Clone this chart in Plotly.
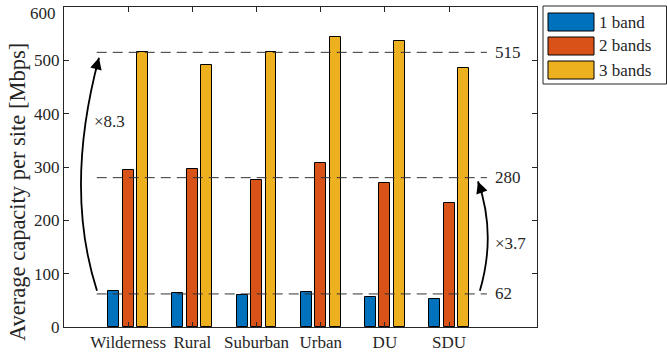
import plotly.graph_objects as go

# Average capacity per site for each deployment scenario
categories = ["Wilderness", "Rural", "Suburban", "Urban", "DU", "SDU"]
band1 = [67, 64, 60, 66, 57, 52]
band2 = [295, 297, 275, 307, 270, 232]
band3 = [516, 492, 515, 543, 536, 486]
series_names = ["1 band", "2 bands", "3 bands"]
series_colors = ["#0072BD", "#D95319", "#EDB120"]

# Mean levels across scenarios and the gain annotations
mean_levels = [62, 280, 515]
gain_labels = ["\u00d78.3", "\u00d73.7"]

y_ticks = [0, 100, 200, 300, 400, 500, 600]
y_title = "Average capacity per site [Mbps]"

FONT = "Liberation Serif, Times New Roman, serif"
TXT = "#262626"
FS = 17
W, H = 667, 354
ML, MR, MT, MB = 64, 130, 7, 27

pos = list(range(1, len(categories) + 1))
bar_w = 0.17
step = 0.225

fig = go.Figure()
for k, (name, vals, col) in enumerate(zip(series_names, [band1, band2, band3], series_colors)):
    fig.add_trace(go.Bar(
        x=pos, y=vals, name=name,
        width=bar_w, offset=(k - 1) * step - bar_w / 2,
        marker=dict(color=col, line=dict(color="#000000", width=1)),
        showlegend=False,
    ))

# Dashed mean lines with value labels
for lv in mean_levels:
    fig.add_shape(type="line", xref="x", yref="y", x0=0.51, x1=6.59, y0=lv, y1=lv,
                  line=dict(color="#333333", width=1, dash="10px,6px"), layer="above")
    fig.add_annotation(x=6.69, y=lv, xref="x", yref="y", text=str(lv), showarrow=False,
                       xanchor="left", yanchor="middle", font=dict(family=FONT, size=FS, color=TXT))

# Curved arrows from the 1-band mean up to the higher means
lo, mid, hi = mean_levels
fig.add_shape(type="path", xref="x", yref="y",
              path=f"M 0.514 68 Q 0.0 260 0.545 {hi - 10}",
              line=dict(color="#000000", width=1.8))
fig.add_annotation(x=0.545, y=hi - 10, xref="x", yref="y", text="", showarrow=True,
                   ax=-3.6, ay=13.5, arrowhead=2, arrowsize=1.3, arrowwidth=1.8,
                   arrowcolor="#000000", standoff=0)
fig.add_shape(type="path", xref="x", yref="y",
              path=f"M 6.48 68 Q 6.74 175 6.45 {mid - 7}",
              line=dict(color="#000000", width=1.8))
fig.add_annotation(x=6.45, y=mid - 7, xref="x", yref="y", text="", showarrow=True,
                   ax=4.7, ay=13.2, arrowhead=2, arrowsize=1.3, arrowwidth=1.8,
                   arrowcolor="#000000", standoff=0)
fig.add_annotation(x=0.71, y=385, xref="x", yref="y", text=gain_labels[0], showarrow=False,
                   xanchor="center", yanchor="middle", font=dict(family=FONT, size=FS, color=TXT))
fig.add_annotation(x=6.69, y=156, xref="x", yref="y", text=gain_labels[1], showarrow=False,
                   xanchor="left", yanchor="middle", font=dict(family=FONT, size=FS, color=TXT))

# Helpers for placing items in paper coordinates
pw = W - ML - MR
ph = H - MT - MB
def px_x(px):
    return (px - ML) / pw
def px_y(py):
    return (H - MB - py) / ph

# Top y tick label, nudged down so it stays inside the page
fig.add_annotation(x=px_x(58), y=px_y(13), xref="paper", yref="paper", text=str(y_ticks[-1]),
                   showarrow=False, xanchor="right", yanchor="middle",
                   font=dict(family=FONT, size=FS, color=TXT))

# Vertical axis title
fig.add_annotation(x=px_x(17), y=px_y(192), xref="paper", yref="paper", text=y_title,
                   textangle=-90, showarrow=False, xanchor="center", yanchor="middle",
                   font=dict(family=FONT, size=22.5, color=TXT))

# Legend box
fig.add_shape(type="rect", xref="paper", yref="paper",
              x0=px_x(543), x1=px_x(666.5), y0=px_y(84), y1=px_y(6),
              line=dict(color="#262626", width=1), fillcolor="white")
for i, (name, col) in enumerate(zip(series_names, series_colors)):
    top = 13 + 24 * i
    fig.add_shape(type="rect", xref="paper", yref="paper",
                  x0=px_x(548), x1=px_x(594), y0=px_y(top + 18), y1=px_y(top),
                  line=dict(color="#000000", width=1), fillcolor=col)
    fig.add_annotation(x=px_x(597), y=px_y(top + 9), xref="paper", yref="paper",
                       text=name, showarrow=False, xanchor="left", yanchor="middle",
                       font=dict(family=FONT, size=FS, color=TXT))

fig.update_layout(
    width=W, height=H,
    margin=dict(l=ML, r=MR, t=MT, b=MB, pad=0, autoexpand=False),
    paper_bgcolor="white", plot_bgcolor="white",
    bargap=0, showlegend=False,
    font=dict(family=FONT, size=FS, color=TXT),
)
fig.update_xaxes(
    range=[0, 7.37], tickvals=pos, ticktext=categories,
    ticks="inside", ticklen=5, tickcolor="#262626",
    showline=True, linecolor="#262626", linewidth=1, mirror="ticks",
    showgrid=False, zeroline=False, automargin=False,
    tickfont=dict(family=FONT, size=FS, color=TXT),
)
fig.update_yaxes(
    range=[0, 600], tickvals=y_ticks,
    ticktext=[str(v) for v in y_ticks[:-1]] + [""],
    ticks="inside", ticklen=5, tickcolor="#262626",
    showline=True, linecolor="#262626", linewidth=1, mirror="ticks",
    showgrid=False, zeroline=False, automargin=False,
    tickfont=dict(family=FONT, size=FS, color=TXT),
)

fig.write_html("out.html")
